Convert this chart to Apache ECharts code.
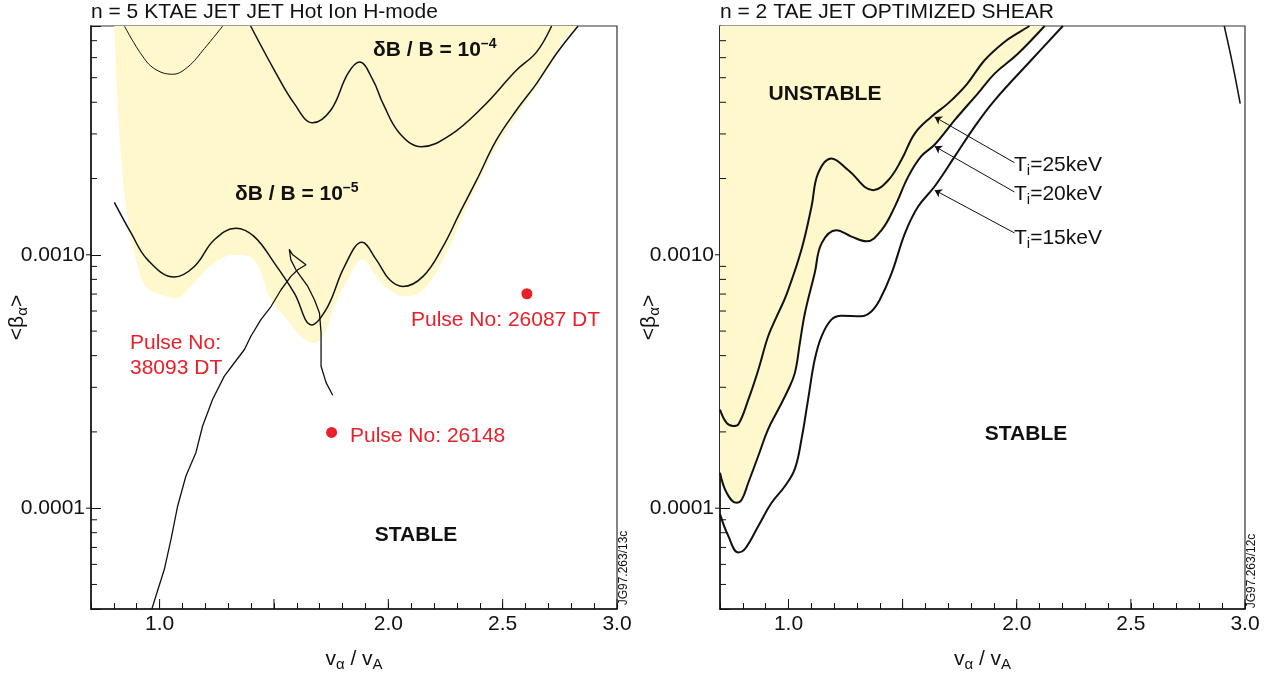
<!DOCTYPE html>
<html>
<head>
<meta charset="utf-8">
<script src="https://cdn.jsdelivr.net/npm/echarts@6/dist/echarts.min.js"></script>
<style>html,body{margin:0;padding:0;background:#fff}#c{width:1271px;height:679px}</style>
</head>
<body>
<div id="c"></div>
<script>
// ---------------- data ----------------
const X_MIN = 0.7, X_MAX = 3.0, Y_MIN = 4e-5, Y_MAX = 8e-3;
const xLabelValues = [1.0, 2.0, 2.5, 3.0];
const xMajorTicks = [1.0, 1.5, 2.0, 2.5, 3.0];
const yMajorTicks = [1e-4, 1e-3];
const yMinorTicks = [5e-5, 6e-5, 7e-5, 8e-5, 9e-5, 2e-4, 3e-4, 4e-4, 5e-4, 6e-4, 7e-4, 8e-4, 9e-4, 2e-3, 3e-3, 4e-3, 5e-3, 6e-3, 7e-3];

// Left panel: n = 5 KTAE
const leftUnstableLower = [[0.802,0.008],[0.813,0.0046],[0.831,0.00251],[0.853,0.00155],[0.889,0.00102],[0.940,0.00075],[1.006,0.000696],[1.071,0.000675],[1.137,0.00075],[1.239,0.000927],[1.334,0.0010],[1.414,0.000955],[1.487,0.000665],[1.560,0.000554],[1.618,0.000477],[1.677,0.000449],[1.721,0.000492],[1.764,0.000625],[1.823,0.000797],[1.885,0.00096],[1.948,0.000822],[2.006,0.000728],[2.072,0.000686],[2.152,0.000728],[2.239,0.000955],[2.312,0.00133],[2.386,0.00186],[2.473,0.00267],[2.560,0.00351],[2.648,0.0046],[2.721,0.00586],[2.764,0.00702],[2.837,0.008]];
const leftDB4Left = [[0.846,0.008],[0.918,0.00622],[0.977,0.00543],[1.057,0.00516],[1.123,0.00551],[1.196,0.00652],[1.276,0.008]];
const leftDB4 = [[1.398,0.008],[1.502,0.00535],[1.589,0.00395],[1.669,0.00332],[1.749,0.00373],[1.823,0.00519],[1.874,0.00577],[1.933,0.00489],[1.977,0.00395],[2.050,0.00301],[2.145,0.00267],[2.269,0.00296],[2.414,0.00384],[2.560,0.00535],[2.648,0.00631],[2.714,0.008]];
const leftDB5 = [[0.802,0.00161],[0.875,0.00122],[0.948,0.000955],[1.064,0.000817],[1.152,0.000899],[1.239,0.001146],[1.334,0.001274],[1.414,0.00118],[1.502,0.000927],[1.589,0.000706],[1.665,0.000529],[1.735,0.000625],[1.808,0.000899],[1.885,0.00112],[1.948,0.000955],[2.006,0.000797],[2.064,0.00075],[2.152,0.000822],[2.239,0.001078],[2.312,0.00146],[2.386,0.00197],[2.473,0.00284],[2.560,0.00372],[2.648,0.00474],[2.735,0.00622],[2.830,0.008]];
const pulse38093 = [[0.966,4.0e-5],[1.021,5.75e-5],[1.050,7.55e-5],[1.079,0.000102],[1.115,0.000134],[1.159,0.000166],[1.188,0.000211],[1.232,0.000269],[1.283,0.000332],[1.327,0.000375],[1.371,0.000423],[1.399,0.000477],[1.443,0.000555],[1.487,0.000625],[1.531,0.000728],[1.574,0.000822],[1.604,0.000873],[1.640,0.000914],[1.582,0.0010],[1.567,0.00105],[1.574,0.000955],[1.596,0.000873],[1.648,0.00075],[1.677,0.000665],[1.699,0.000589],[1.706,0.000492],[1.706,0.000363],[1.728,0.000313],[1.757,0.000279]];
const pulse26087 = [[2.606,0.000702]];
const pulse26148 = [[1.752,0.000199]];

// Right panel: n = 2 TAE
const rightT25 = [[0.70,0.000245],[0.729,0.000217],[0.758,0.000211],[0.780,0.000214],[0.824,0.000268],[0.868,0.000352],[0.911,0.000477],[0.950,0.000575],[0.992,0.00070],[1.057,0.00105],[1.101,0.00155],[1.130,0.00210],[1.188,0.00240],[1.261,0.00216],[1.371,0.00180],[1.437,0.00197],[1.495,0.00237],[1.553,0.00301],[1.626,0.00351],[1.699,0.00396],[1.780,0.0047],[1.859,0.00586],[1.946,0.00692],[2.012,0.00757],[2.056,0.008]];
const rightT20 = [[0.70,0.000138],[0.729,0.000115],[0.771,0.000105],[0.795,0.000108],[0.824,0.000126],[0.868,0.000161],[0.911,0.000205],[0.955,0.000245],[0.999,0.000294],[1.028,0.000342],[1.050,0.000449],[1.072,0.000589],[1.115,0.000847],[1.145,0.00111],[1.210,0.00125],[1.276,0.00118],[1.342,0.00113],[1.407,0.00125],[1.466,0.00155],[1.524,0.00203],[1.582,0.00245],[1.640,0.00272],[1.728,0.0034],[1.830,0.00434],[1.903,0.00519],[2.005,0.00622],[2.122,0.008]];
const rightT15 = [[0.70,9.47e-5],[0.736,7.78e-5],[0.780,6.69e-5],[0.809,6.9e-5],[0.868,8.51e-5],[0.926,0.000105],[0.984,0.000122],[1.028,0.000143],[1.057,0.000187],[1.086,0.000269],[1.115,0.000386],[1.145,0.000477],[1.188,0.000555],[1.232,0.000575],[1.319,0.000572],[1.363,0.000598],[1.400,0.000665],[1.452,0.000847],[1.511,0.00122],[1.568,0.00155],[1.640,0.00186],[1.728,0.00244],[1.815,0.0032],[1.903,0.00407],[2.063,0.00586],[2.202,0.008]];
const rightEdgeCurve = [[2.909,0.008],[2.945,0.00569],[2.979,0.00395]];
const rightArrows = [
  [[1.990,0.00231],[1.6405,0.0035]],
  [[1.990,0.00177],[1.6405,0.00268]],
  [[1.990,0.00122],[1.6405,0.0018]]
];

// ---------------- styling / layout ----------------
const FONT = 'Liberation Sans, Arial, Helvetica, sans-serif';
const YELLOW = '#fef8cc';
const INK = '#111';
const RED = '#e8202a';
const grids = [
  {left: 91, top: 26, width: 526, height: 583},
  {left: 720, top: 26, width: 525, height: 583}
];

function xAxisFor(i) {
  return {
    type: 'value', gridIndex: i, min: X_MIN, max: X_MAX, interval: 0.1,
    axisLine: {onZero: false, lineStyle: {color: INK, width: 1.5}},
    axisTick: {inside: true, length: 6, lineStyle: {color: INK, width: 1}},
    splitLine: {show: false},
    axisLabel: {
      margin: 5, fontSize: 21, color: INK, fontFamily: FONT,
      formatter: v => xLabelValues.some(t => Math.abs(t - v) < 1e-6) ? v.toFixed(1) : ''
    },
    name: '{a|v}{s|α}{a| / v}{s|A}', nameLocation: 'middle', nameGap: 37, nameMoveOverlap: false,
    nameTextStyle: {
      color: INK, fontFamily: FONT,
      rich: {a: {fontSize: 21, lineHeight: 26, fontFamily: FONT, color: INK},
             s: {fontSize: 15, lineHeight: 14, verticalAlign: 'bottom', fontFamily: FONT, color: INK}}
    }
  };
}
function yAxisFor(i, gap) {
  return {
    type: 'log', logBase: 10, gridIndex: i, min: Y_MIN, max: Y_MAX,
    axisLine: {lineStyle: {color: INK, width: 1.5}},
    axisTick: {inside: true, length: 10, lineStyle: {color: INK, width: 1}},
    splitLine: {show: false},
    axisLabel: {
      margin: 6, fontSize: 21, color: INK, fontFamily: FONT,
      formatter: v => {
        const e = Math.log10(v);
        if (Math.abs(e + 3) < 1e-6) return '0.0010';
        if (Math.abs(e + 4) < 1e-6) return '0.0001';
        return '';
      }
    },
    name: '{a|<β}{s|α}{a|>}', nameLocation: 'middle', nameGap: gap, nameMoveOverlap: false,
    nameTextStyle: {
      color: INK, fontFamily: FONT,
      rich: {a: {fontSize: 21, lineHeight: 26, fontFamily: FONT, color: INK},
             s: {fontSize: 15, lineHeight: 14, verticalAlign: 'bottom', fontFamily: FONT, color: INK}}
    }
  };
}
function curve(i, data, width, smooth) {
  return {type: 'line', xAxisIndex: i, yAxisIndex: i, data, showSymbol: false, symbol: 'none',
          smooth: smooth === undefined ? 0.4 : smooth, silent: true, z: 3,
          lineStyle: {color: INK, width: width}};
}
function fill(i, data) {
  return {type: 'line', xAxisIndex: i, yAxisIndex: i, data, showSymbol: false, symbol: 'none',
          smooth: 0.4, silent: true, z: 1,
          lineStyle: {width: 0, color: YELLOW}, areaStyle: {color: YELLOW, opacity: 1, origin: 'end'}};
}
function tickMarks(i, data, dir, len, offset) {
  return {
    type: 'custom', xAxisIndex: i, yAxisIndex: i, data, silent: true, z: 6, clip: false,
    renderItem(params, api) {
      const p = api.coord([api.value(0), api.value(1)]);
      const o = offset || 0;
      const s = dir === 'up' ? [p[0], p[1] + o] : [p[0] - o, p[1]];
      const e = dir === 'up' ? [p[0], p[1] - len] : [p[0] + len, p[1]];
      return {type: 'line', shape: {x1: s[0], y1: s[1], x2: e[0], y2: e[1]},
              style: {stroke: INK, lineWidth: 1}};
    }
  };
}
function dot(i, data) {
  return {type: 'scatter', xAxisIndex: i, yAxisIndex: i, data, symbol: 'circle', symbolSize: 11,
          itemStyle: {color: RED, opacity: 1}, silent: true, z: 4};
}

const xMajorData = xMajorTicks.map(v => [v, Y_MIN]);
const yMinorData = yMinorTicks.map(v => [X_MIN, v]);
const yMajorData = yMajorTicks.map(v => [X_MIN, v]);

function txt(x, y, text, opts) {
  return Object.assign({type: 'text', x, y, silent: true, z: 10,
    style: Object.assign({text, fontFamily: FONT, fontSize: 20, fill: INK, align: 'left', verticalAlign: 'middle'}, opts || {})});
}
const richSup = {a: {fontSize: 21, fontWeight: 'bold', lineHeight: 26, fontFamily: FONT, color: INK},
                 s: {fontSize: 14, fontWeight: 'bold', lineHeight: 14, verticalAlign: 'top', fontFamily: FONT, color: INK}};
const richSub = {a: {fontSize: 21, lineHeight: 26, fontFamily: FONT, color: INK},
                 s: {fontSize: 15, lineHeight: 14, verticalAlign: 'bottom', fontFamily: FONT, color: INK}};

const option = {
  animation: false,
  backgroundColor: '#fff',
  title: [
    {text: 'n = 5 KTAE JET JET Hot Ion H-mode', left: 91, top: 2, padding: 0,
     textStyle: {fontSize: 21, fontWeight: 'normal', color: INK, fontFamily: FONT}},
    {text: 'n = 2 TAE JET OPTIMIZED SHEAR', left: 720, top: 2, padding: 0,
     textStyle: {fontSize: 21, fontWeight: 'normal', color: INK, fontFamily: FONT}}
  ],
  grid: grids.map(g => Object.assign({show: true, borderColor: '#333', borderWidth: 1.2,
    backgroundColor: 'transparent', containLabel: false, outerBoundsMode: 'none'}, g)),
  xAxis: [xAxisFor(0), xAxisFor(1)],
  yAxis: [yAxisFor(0, 61), yAxisFor(1, 58)],
  series: [
    fill(0, leftUnstableLower),
    curve(0, leftDB4Left, 1),
    curve(0, leftDB4, 1.5),
    curve(0, leftDB5, 1.5),
    curve(0, pulse38093, 1.3, false),
    dot(0, pulse26087),
    dot(0, pulse26148),
    tickMarks(0, xMajorData, 'up', 10),
    tickMarks(0, yMinorData, 'right', 6),
    tickMarks(0, yMajorData, 'right', 0, 5),

    fill(1, rightT20),
    curve(1, rightT25, 2),
    curve(1, rightT20, 2),
    curve(1, rightT15, 2),
    curve(1, rightEdgeCurve, 1.5),
    {type: 'lines', coordinateSystem: 'cartesian2d', xAxisIndex: 1, yAxisIndex: 1, silent: true, z: 5,
     data: rightArrows.map(c => ({coords: c})),
     symbol: ['none', 'arrow'], symbolSize: 7,
     lineStyle: {color: INK, width: 1, opacity: 1}},
    tickMarks(1, xMajorData, 'up', 10),
    tickMarks(1, yMinorData, 'right', 6),
    tickMarks(1, yMajorData, 'right', 0, 5)
  ],
  graphic: [
    txt(373, 50, '{a|δB / B = 10}{s|–4}', {rich: richSup}),
    txt(235, 194, '{a|δB / B = 10}{s|–5}', {rich: richSup}),
    txt(416, 535, 'STABLE', {fontWeight: 'bold', align: 'center', fontSize: 21}),
    txt(411, 320, 'Pulse No: 26087 DT', {fill: RED, fontSize: 21}),
    txt(130, 356, 'Pulse No:\n38093 DT', {fill: RED, fontSize: 21, lineHeight: 25}),
    txt(350, 436, 'Pulse No: 26148', {fill: RED, fontSize: 21}),
    txt(624, 568, 'JG97.263/13c', {fontSize: 12, align: 'center'}),
    txt(825, 94, 'UNSTABLE', {fontWeight: 'bold', align: 'center', fontSize: 21}),
    txt(1026, 434, 'STABLE', {fontWeight: 'bold', align: 'center', fontSize: 21}),
    txt(1014, 165, '{a|T}{s|i}{a|=25keV}', {rich: richSub}),
    txt(1014, 194, '{a|T}{s|i}{a|=20keV}', {rich: richSub}),
    txt(1014, 238, '{a|T}{s|i}{a|=15keV}', {rich: richSub}),
    txt(1252, 571, 'JG97.263/12c', {fontSize: 12, align: 'center'})
  ]
};
option.graphic[6].rotation = Math.PI / 2;
option.graphic[12].rotation = Math.PI / 2;

const chart = echarts.init(document.getElementById('c'), null, {renderer: 'canvas'});
chart.setOption(option);
</script>
</body>
</html>
